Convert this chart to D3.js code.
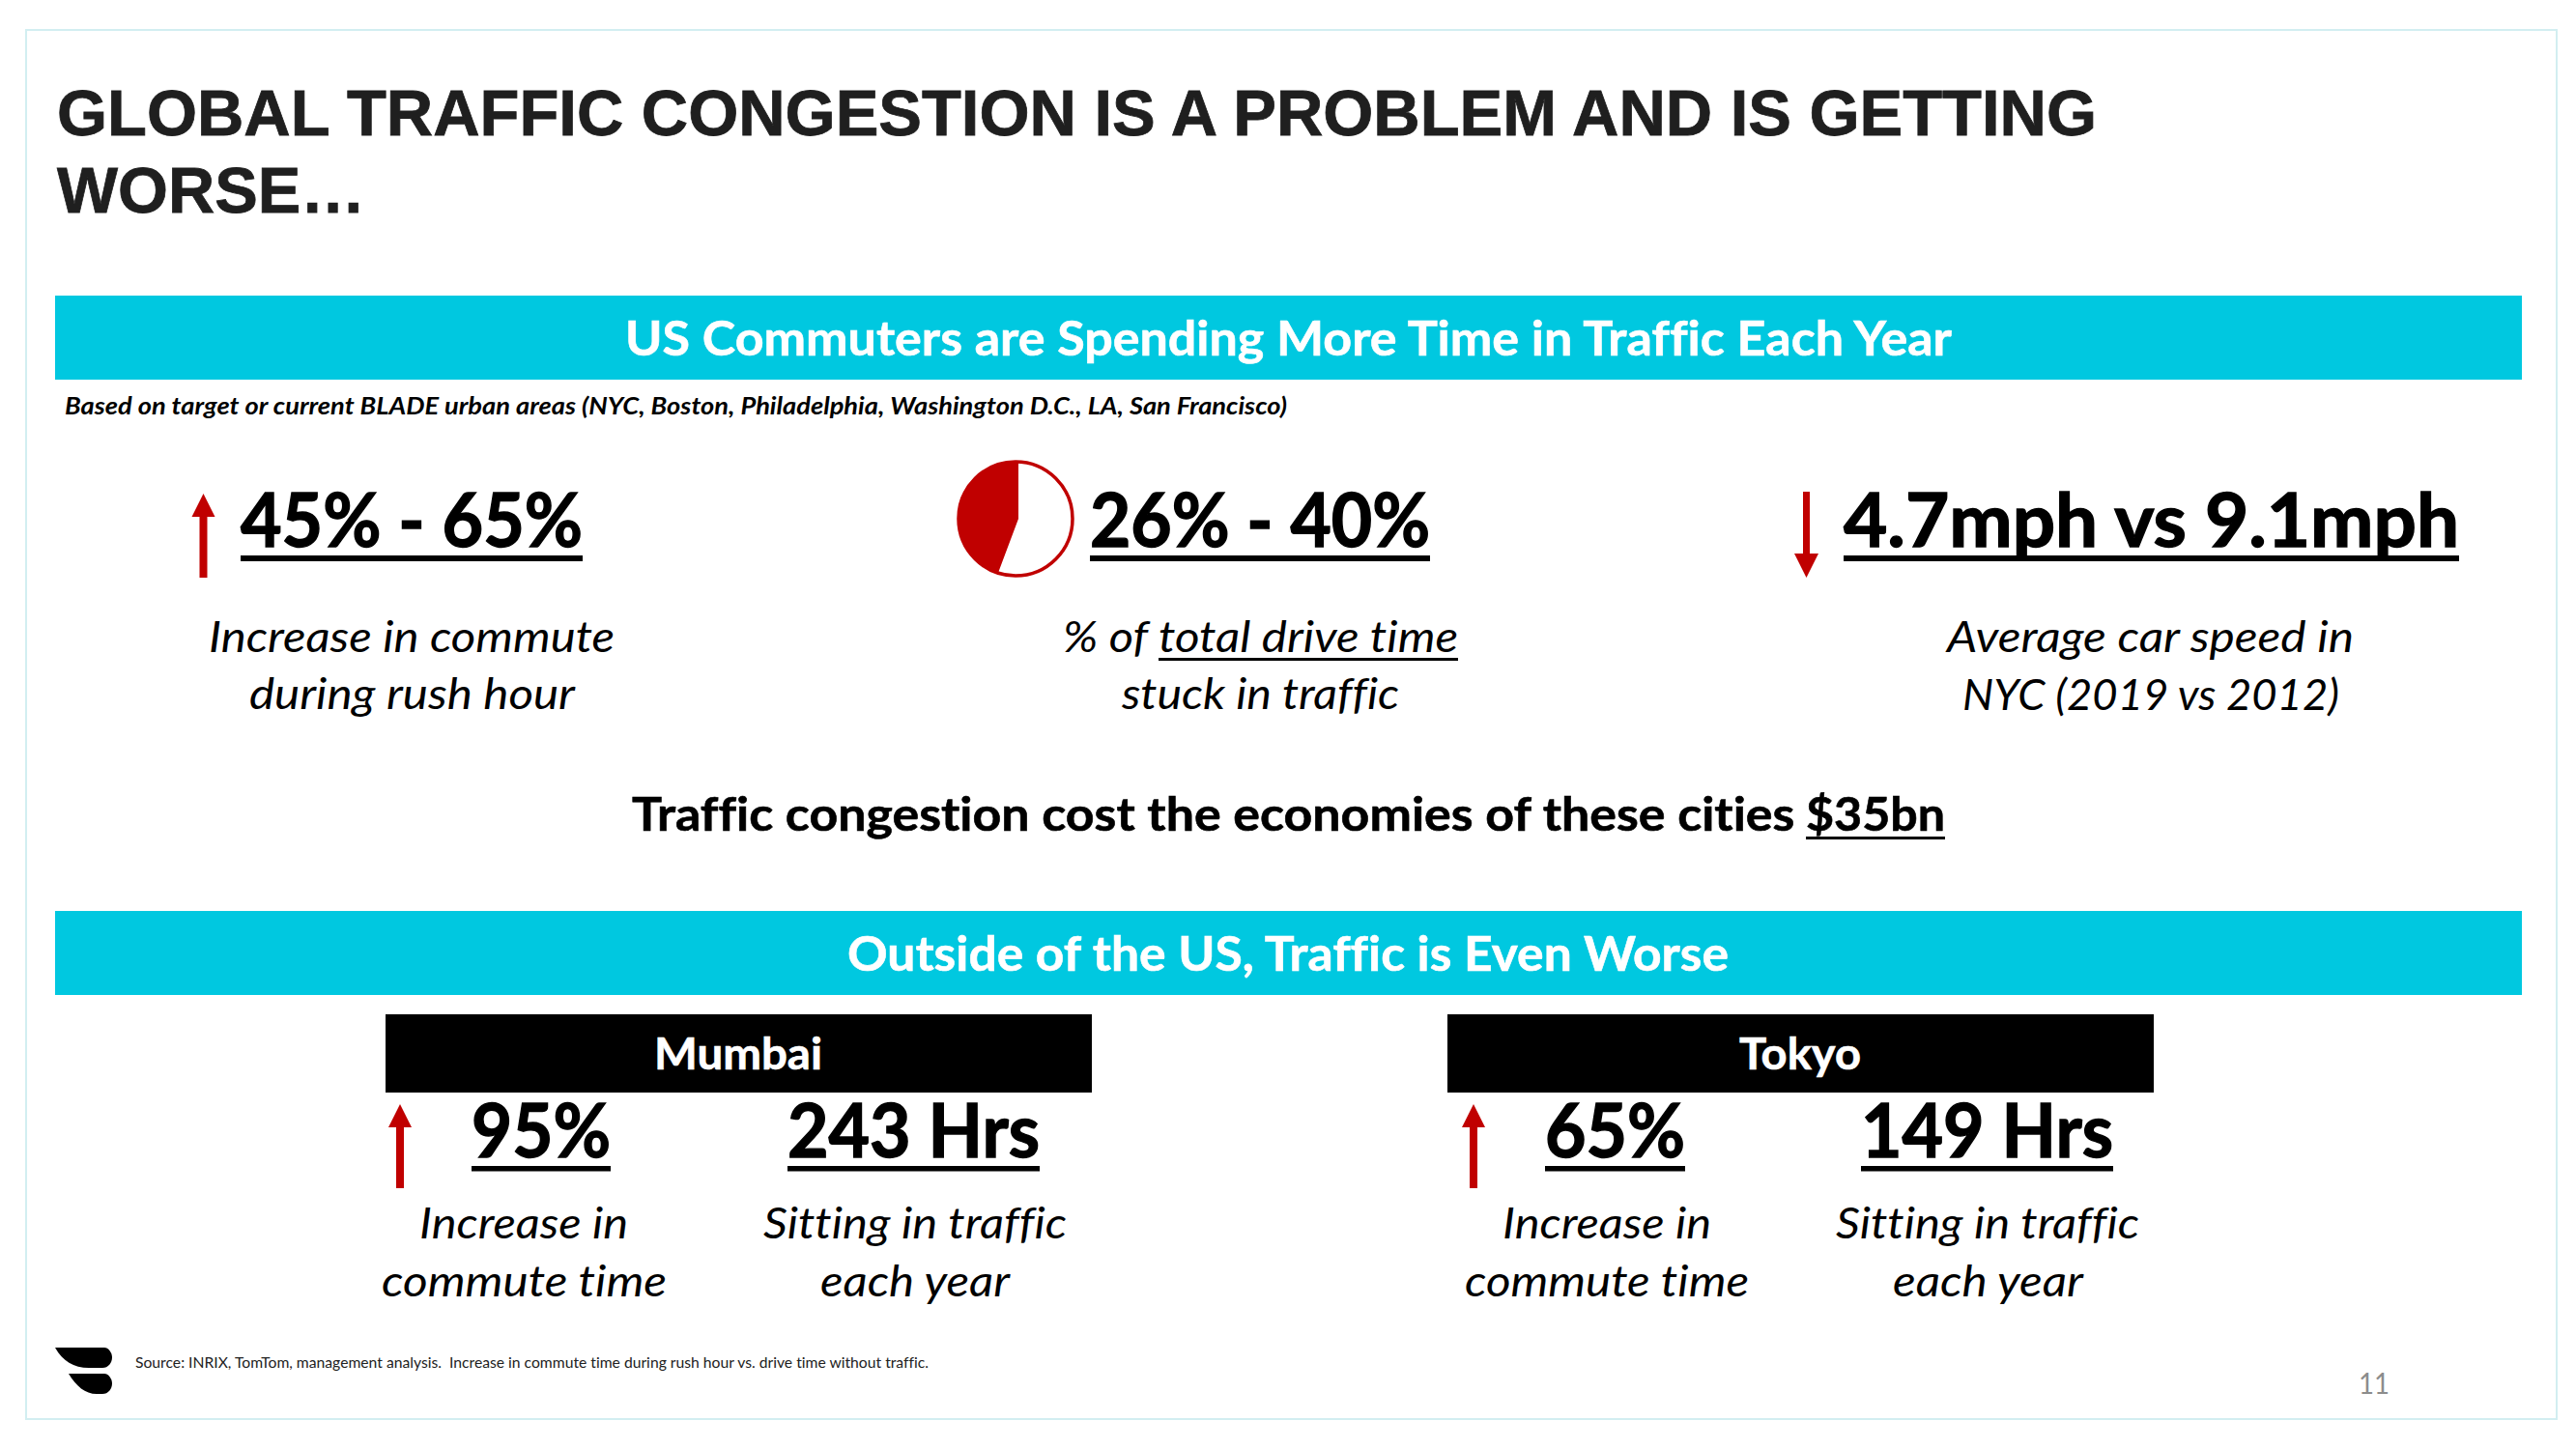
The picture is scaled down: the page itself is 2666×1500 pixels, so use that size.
<!DOCTYPE html>
<html>
<head>
<meta charset="utf-8">
<script src="https://cdn.jsdelivr.net/npm/d3@7"></script>
<style>
  html, body { margin: 0; padding: 0; background: #fff; }
  svg { display: block; }
  text { font-variant-ligatures: none; }
</style>
</head>
<body>
<div id="slide"></div>
<script>
// text and values
const titleLines = ["GLOBAL TRAFFIC CONGESTION IS A PROBLEM AND IS GETTING", "WORSE\u2026"];
const bannerLabels = ["US Commuters are Spending More Time in Traffic Each Year", "Outside of the US, Traffic is Even Worse"];
const noteLabel = "Based on target or current BLADE urban areas (NYC, Boston, Philadelphia, Washington D.C., LA, San Francisco)";
const usStats = ["45% - 65%", "26% - 40%", "4.7mph vs 9.1mph"];
const stuckShare = [44.3, 55.7]; // stuck in traffic, rest of the drive
const costLabel = "Traffic congestion cost the economies of these cities ";
const costValue = "$35bn";
const cities = ["Mumbai", "Tokyo"];
const cityIncrease = ["95%", "65%"];
const cityHours = ["243 Hrs", "149 Hrs"];
const sourceLabel = "Source: INRIX, TomTom, management analysis.  Increase in commute time during rush hour vs. drive time without traffic.";
const pageNumber = "11";

const width = 2666, height = 1500;
const RED = "#c00000", CYAN = "#00c8e0";
const CALIBRI = "Lato, Carlito, sans-serif";

const svg = d3.select("#slide").append("svg")
    .attr("width", width)
    .attr("height", height);

// frame of the slide
svg.append("rect")
    .attr("x", 27).attr("y", 31)
    .attr("width", 2619).attr("height", 1438)
    .attr("fill", "#fff")
    .attr("stroke", "#d2eef1")
    .attr("stroke-width", 2);

// puts a text between x0 and x1, the glyphs are stretched to fit
function fit(str, x0, x1, y, size, opts) {
  opts = opts || {};
  const fill = opts.fill || "#000";
  svg.append("text")
      .attr("x", x0)
      .attr("y", y)
      .attr("textLength", x1 - x0)
      .attr("lengthAdjust", "spacingAndGlyphs")
      .style("font-family", opts.family || CALIBRI)
      .style("font-size", size + "px")
      .style("font-weight", opts.weight || "normal")
      .style("font-style", opts.style || "normal")
      .attr("fill", fill)
      .attr("stroke", opts.heavy ? fill : "none")
      .attr("stroke-width", opts.heavy || 0)
      .style("white-space", "pre")
      .text(str);
  if (opts.underline) {
    svg.append("rect")
        .attr("x", x0)
        .attr("y", opts.underline[0])
        .attr("width", x1 - x0)
        .attr("height", opts.underline[1])
        .attr("fill", "#000");
  }
}

// red arrow, the tip can be above or below the tail
function arrow(x, tip, tail, headBase, shaft, head) {
  const line = d3.line();
  svg.append("path")
      .attr("d", line([
        [x, tip], [x + head / 2, headBase], [x + shaft / 2, headBase],
        [x + shaft / 2, tail], [x - shaft / 2, tail], [x - shaft / 2, headBase],
        [x - head / 2, headBase]
      ]) + "Z")
      .attr("fill", RED);
}

// title
const titleFont = {family: "'Liberation Sans', Arial, sans-serif", weight: "bold", fill: "#1f1f1f", heavy: 0.8};
fit(titleLines[0], 59, 2170, 140, 67, titleFont);
fit(titleLines[1], 59, 378, 220, 67, titleFont);

// cyan banners
[[306, 393, 647, 2020, 368], [943, 1030, 877, 1789, 1005]].forEach(function(b, i) {
  svg.append("rect")
      .attr("x", 57).attr("y", b[0])
      .attr("width", 2553).attr("height", b[1] - b[0])
      .attr("fill", CYAN);
  fit(bannerLabels[i], b[2], b[3], b[4], 50, {weight: "bold", fill: "#fff", heavy: 0.6});
});

fit(noteLabel, 67, 1332, 429, 24, {weight: "bold", style: "italic"});

// US stats
const statFont = {weight: "bold", heavy: 1.4, underline: [575, 6]};
fit(usStats[0], 249, 603, 566, 76, statFont);
fit(usStats[1], 1128, 1480, 566, 76, statFont);
fit(usStats[2], 1908, 2545, 566, 76, statFont);

arrow(210.5, 511, 598, 535, 8, 24);
arrow(1869.5, 598, 509, 573, 7, 25);

// pie of the drive time, the wedge point sits a bit right of the circle centre
const pieR = 59;
const pieG = svg.append("g").attr("transform", "translate(1051,537)");
svg.append("clipPath").attr("id", "pie_clip")
    .append("circle").attr("cx", 0).attr("cy", 0).attr("r", pieR);
const pieAngles = d3.pie().sort(null).startAngle(2 * Math.PI).endAngle(0)(stuckShare);
pieG.append("circle").attr("r", pieR).attr("fill", "#fff");
pieG.append("g").attr("clip-path", "url(#pie_clip)")
  .append("path")
    .attr("transform", "translate(3,0)")
    .attr("d", d3.arc().innerRadius(0).outerRadius(pieR + 10)(pieAngles[0]))
    .attr("fill", RED);
pieG.append("circle").attr("r", pieR)
    .attr("fill", "none")
    .attr("stroke", RED)
    .attr("stroke-width", 3.5);

// descriptions
const descFont = {style: "italic"};
fit("Increase in commute", 216, 636, 675, 44, descFont);
fit("during rush hour", 258, 595, 734, 44, descFont);
fit("% of ", 1100, 1199, 675, 44, descFont);
fit("total drive time", 1199, 1509, 675, 44, {style: "italic", underline: [681, 3]});
fit("stuck in traffic", 1161, 1448, 734, 44, descFont);
fit("Average car speed in", 2015, 2436, 675, 44, descFont);
fit("NYC (2019 vs 2012)", 2031, 2421, 735, 44, descFont);

fit(costLabel, 654, 1870, 860, 48, {weight: "bold", heavy: 0.6});
fit(costValue, 1869, 2013, 860, 48, {weight: "bold", heavy: 0.6, underline: [866, 3]});

// city panels, Tokyo is the Mumbai panel moved to the right
cities.forEach(function(city, i) {
  const boxX = [399, 1498][i];
  const nameX = [[677, 851], [1800, 1926]][i];
  const pctX = [[488, 632], [1599, 1744]][i];
  const hrsX = [[815, 1076], [1926, 2187]][i];
  const incX = [[434, 650], [1555, 1771]][i];
  const comX = [[395, 690], [1516, 1810]][i];
  const sitX = [[790, 1104], [1900, 2214]][i];
  const eachX = [[849, 1045], [1959, 2156]][i];

  svg.append("rect")
      .attr("x", boxX).attr("y", 1050)
      .attr("width", 731).attr("height", 81)
      .attr("fill", "#000");
  fit(city, nameX[0], nameX[1], 1107, 45, {weight: "bold", fill: "#fff", heavy: 0.6});

  arrow(boxX + (i ? 27 : 15), 1143, 1230, 1167, 8, 24);

  const bigFont = {weight: "bold", heavy: 1.4, underline: [1207, 5.5]};
  fit(cityIncrease[i], pctX[0], pctX[1], 1198, 76, bigFont);
  fit(cityHours[i], hrsX[0], hrsX[1], 1198, 76, bigFont);

  fit("Increase in", incX[0], incX[1], 1282, 44, descFont);
  fit("commute time", comX[0], comX[1], 1342, 44, descFont);
  fit("Sitting in traffic", sitX[0], sitX[1], 1282, 44, descFont);
  fit("each year", eachX[0], eachX[1], 1342, 44, descFont);
});

// footer
fit(sourceLabel, 140, 961, 1416, 15, {fill: "#222"});
fit(pageNumber, 2441, 2473, 1443, 30, {fill: "#8c8c8c"});

// logo
const logo = svg.append("g").attr("fill", "#000");
logo.append("path").attr("d", "M57 1395 H108 C112 1395 116 1400 116 1405 C116 1411 112 1416 106 1416 H92 C76 1416 65 1409 57 1395 Z");
logo.append("path").attr("d", "M71 1422 H108 C112 1422 116 1427 116 1432 C116 1438 112 1443 106 1443 H100 C88 1443 79 1435 71 1422 Z");
</script>
</body>
</html>
